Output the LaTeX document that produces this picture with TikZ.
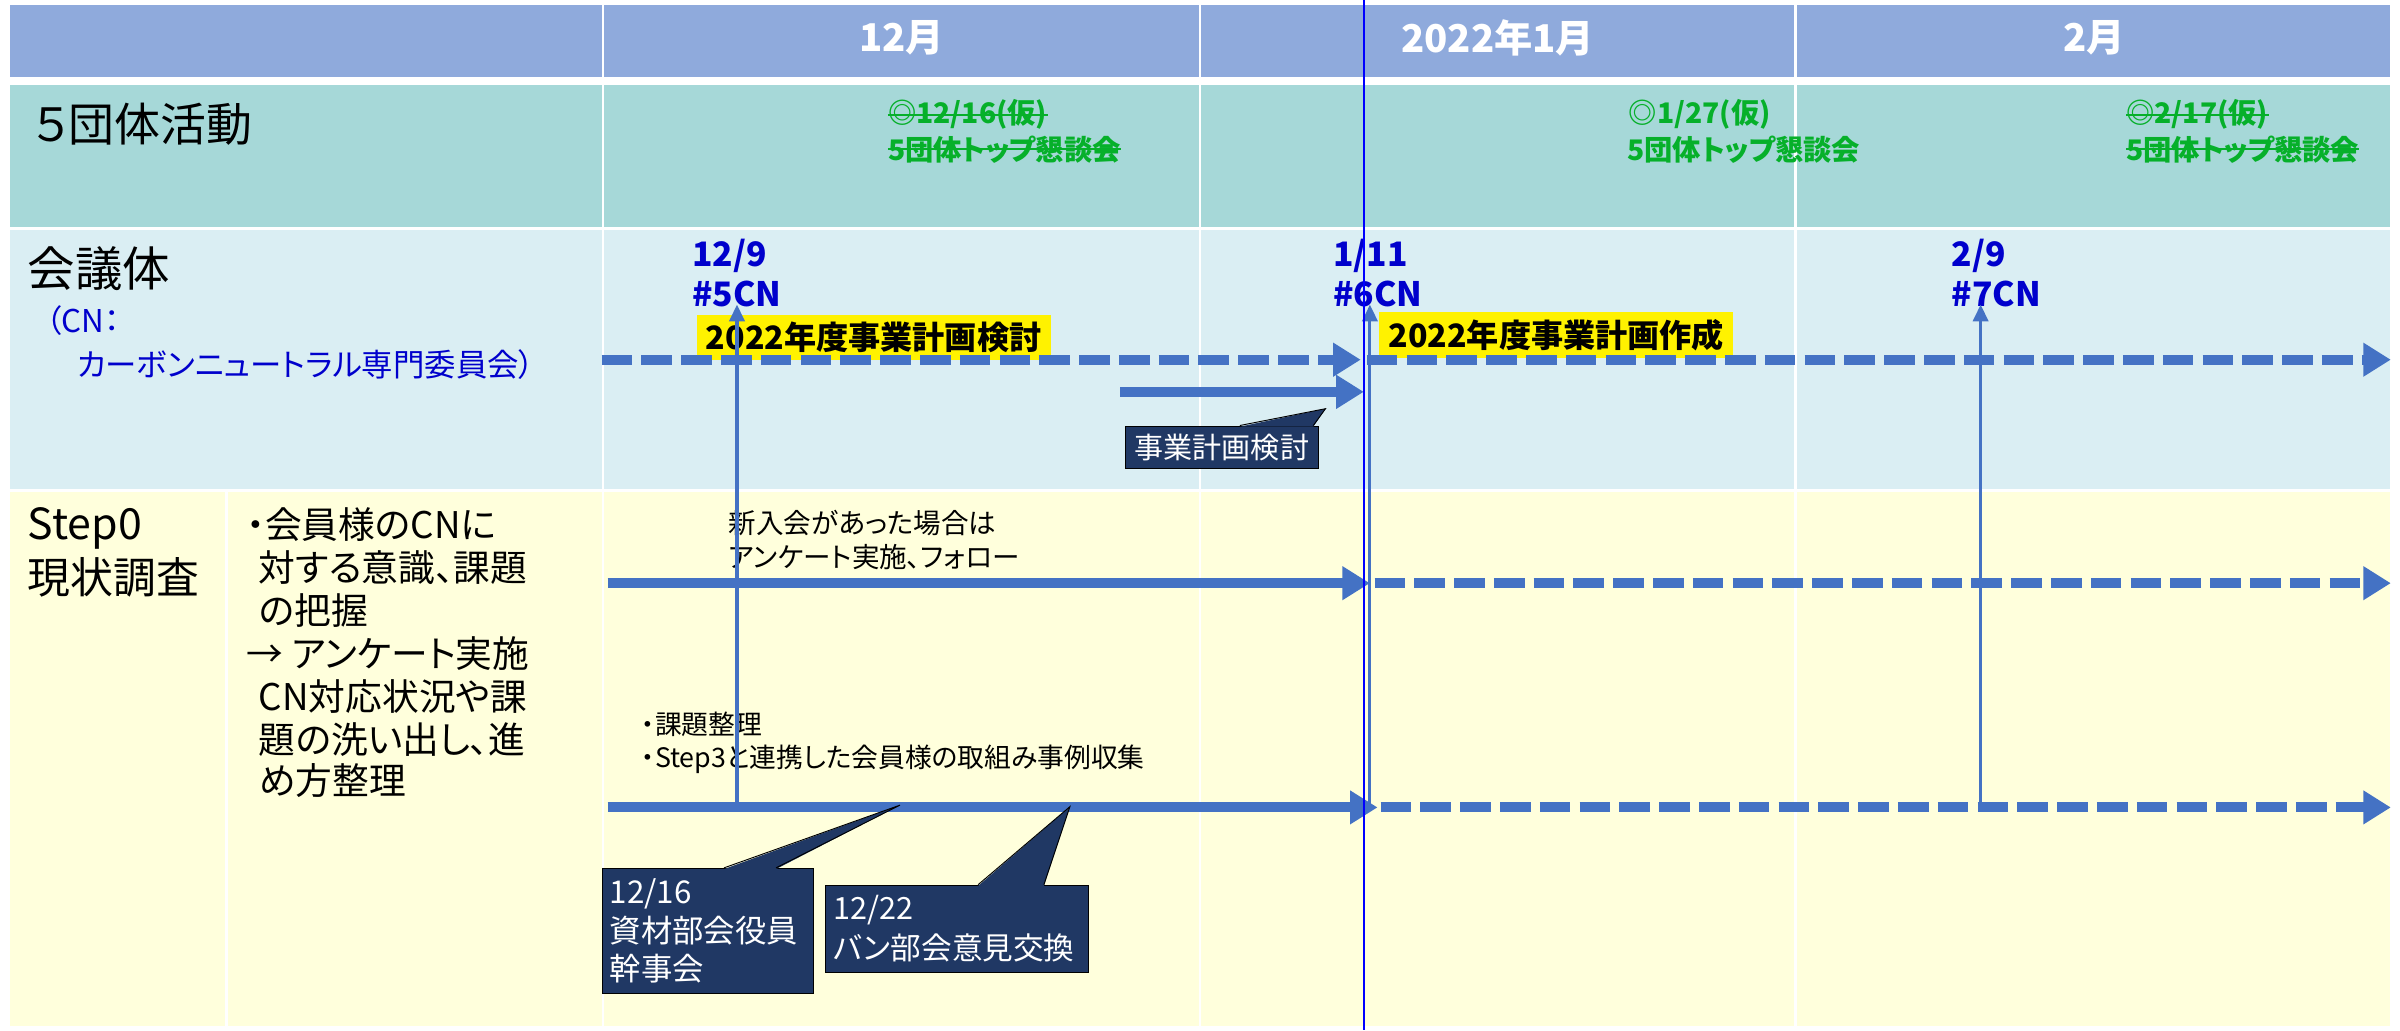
\documentclass[tikz,border=0pt]{standalone}
\usepackage{fontspec}
\setmainfont{Noto Sans CJK JP}[RawFeature=+palt]
\usetikzlibrary{arrows.meta}
\definecolor{hdrbg}{HTML}{8FAADC}
\definecolor{orgbg}{HTML}{A6D8D8}
\definecolor{meetbg}{HTML}{DAEEF3}
\definecolor{stepbg}{HTML}{FFFFDC}
\definecolor{arrblue}{HTML}{4472C4}
\definecolor{cnblue}{HTML}{0000CC}
\definecolor{grn}{HTML}{06B02A}
\definecolor{navybox}{HTML}{203864}
\newcommand{\myfs}[1]{\fontsize{#1}{#1}\selectfont}
\tikzset{
  hdrtxt/.style={text=white, font=\bfseries\myfs{25}, inner sep=0pt},
  gtxt/.style={text=grn, font=\bfseries\myfs{18.5}, inner sep=0pt, anchor=west},
  strikeline/.style={draw=grn, line width=1.4pt},
  dtxt/.style={text=cnblue, font=\bfseries\myfs{22}, inner sep=0pt, anchor=west},
  ybox/.style={fill=yellow, text=black, font=\bfseries\myfs{21}, inner xsep=6pt, inner ysep=0pt, minimum height=30pt, anchor=west},
  bigsolid/.style={draw=arrblue, line width=6.5pt, -{Triangle[length=18pt,width=21pt]}},
  bigdash/.style={bigsolid, dash pattern=on 20pt off 6pt},
  thinup/.style={draw=arrblue, line width=2pt, -{Triangle[length=11pt,width=10pt]}},
  callbox/.style={fill=navybox, draw=black, line width=0.6pt, text=white, inner xsep=5pt, inner ysep=0pt, align=left, anchor=north west},
  jtxt/.style={text=black, inner sep=0pt, anchor=west},
  divider/.style={draw=white, line width=1.6pt},
}
\begin{document}
\begin{tikzpicture}[x=1pt,y=-1pt]
\useasboundingbox (0,0) rectangle (1568,673);
\fill[white] (0,0) rectangle (1568,673);
% rows
\fill[hdrbg] (6.5,3) rectangle (1561.5,50);
\fill[orgbg] (6.5,55.5) rectangle (1561.5,148);
\fill[meetbg] (6.5,150) rectangle (1561.5,319.5);
\fill[stepbg] (6.5,321.5) rectangle (1561.5,670);
% dividers
\draw[divider] (394,3) -- (394,670);
\draw[divider] (784,3) -- (784,670);
\draw[divider] (1173,3) -- (1173,670);
\draw[divider] (148,321.5) -- (148,670);
% header
\node[hdrtxt] (hd1) at (589,25) {12月};
\node[hdrtxt] (hd2) at (978.5,25) {2022年1月};
\node[hdrtxt] (hd3) at (1368,25) {2月};
% 5 dantai row
\node[jtxt, font=\myfs{30}] (org) at (22,81) {５団体活動};
\node[gtxt] (g1a) at (580,75) {◎12/16(仮)};
\node[gtxt] (g1b) at (580,97.5) {5団体トップ懇談会};
\draw[strikeline] (g1a.west) -- (g1a.east);
\draw[strikeline] (g1b.west) -- (g1b.east);
\node[gtxt] (g2a) at (1064,75) {◎1/27(仮)};
\node[gtxt] (g2b) at (1063,97.5) {5団体トップ懇談会};
\node[gtxt] (g3a) at (1389,75) {◎2/17(仮)};
\node[gtxt] (g3b) at (1389,97.5) {5団体トップ懇談会};
\draw[strikeline] (g3a.west) -- (g3a.east);
\draw[strikeline] (g3b.west) -- (g3b.east);
% kaigitai row
\node[jtxt, font=\myfs{31}] (kg) at (18,175.5) {会議体};
\node[jtxt, text=cnblue, font=\myfs{20.5}] (cn1) at (30,209.5) {（CN：};
\node[jtxt, text=cnblue, font=\myfs{20.5}] (cn2) at (50,238.5) {カーボンニュートラル専門委員会）};
\node[dtxt] (d1a) at (452,167.5) {12/9};
\node[dtxt] (d1b) at (452,192) {\#5CN};
\node[dtxt] (d2a) at (871,167.5) {1/11};
\node[dtxt] (d2b) at (871,192) {\#6CN};
\node[dtxt] (d3a) at (1275,167.5) {2/9};
\node[dtxt] (d3b) at (1275,192) {\#7CN};
\node[ybox] (yb1) at (455,220.5) {2022年度事業計画検討};
\node[ybox] (yb2) at (901,219) {2022年度事業計画作成};
% step0 row texts
\node[jtxt, font=\myfs{28}] (s0a) at (18,345.5) {Step0};
\node[jtxt, font=\myfs{28}] (s0b) at (18,377) {現状調査};
\node[jtxt, font=\myfs{24}] (b1) at (161,343) {・会員様のCNに};
\node[jtxt, font=\myfs{24}] (b2) at (169,371) {対する意識、課題};
\node[jtxt, font=\myfs{24}] (b3) at (169,399) {の把握};
\node[jtxt, font=\myfs{24}] (b4) at (161,427) {→ アンケート実施};
\node[jtxt, font=\myfs{24}] (b5) at (169,455) {CN対応状況や課};
\node[jtxt, font=\myfs{24}] (b6) at (169,483) {題の洗い出し、進};
\node[jtxt, font=\myfs{24}] (b7) at (169,510) {め方整理};
\node[jtxt, font=\myfs{18}] (n1) at (476,342) {新入会があった場合は};
\node[jtxt, font=\myfs{18}] (n2) at (476,364) {アンケート実施、フォロー};
\node[jtxt, font=\myfs{17.5}] (m1) at (419,473) {・課題整理};
\node[jtxt, font=\myfs{17.5}] (m2) at (419,496) {・Step3と連携した会員様の取組み事例収集};
% coordinates for arrows
\coordinate (ka0) at (393,235);
\coordinate (ka1) at (889,235);
\coordinate (ka2) at (893,235);
\coordinate (ka3) at (1562,235);
\coordinate (kb0) at (732,256);
\coordinate (kb1) at (891,256);
\coordinate (sa0) at (397,381);
\coordinate (sa1) at (895,381);
\coordinate (sa2) at (898,381);
\coordinate (sa3) at (1562,381);
\coordinate (sb0) at (397,527.5);
\coordinate (sb1) at (900,527.5);
\coordinate (sb2) at (902,527.5);
\coordinate (sb3) at (1562,527.5);
\coordinate (v1b) at (481.5,527);
\coordinate (v1t) at (481.5,199);
\coordinate (v2b) at (895,527);
\coordinate (v2t) at (895,199);
\coordinate (v3b) at (1294,527);
\coordinate (v3t) at (1294,199);
% vertical arrows
\draw[thinup] (v1b) -- (v1t);
\draw[thinup] (v2b) -- (v2t);
\draw[thinup] (v3b) -- (v3t);
% horizontal arrows
\draw[bigdash] (ka0) -- (ka1);
\draw[bigdash] (ka2) -- (ka3);
\draw[bigsolid] (kb0) -- (kb1);
\draw[bigsolid] (sa0) -- (sa1);
\draw[bigdash] (sa2) -- (sa3);
\draw[bigsolid] (sb0) -- (sb1);
\draw[bigdash] (sb2) -- (sb3);
% callouts
\node[callbox, minimum width=126pt, minimum height=28pt, align=center, font=\myfs{19}] (c3) at (735,278) {事業計画検討};
\fill[navybox] (810,278.8) -- (866,267) -- (858,278.8) -- cycle;
\draw[black, line width=0.6pt] (810,278) -- (866,267) -- (858,278);
\node[callbox, text width=128pt, minimum height=82pt, font=\fontsize{20.5}{25}\selectfont] (c1) at (393,567) {12/16\\資材部会役員\\幹事会};
\fill[navybox] (473,567.8) -- (588,526) -- (507,567.8) -- cycle;
\draw[black, line width=0.6pt] (473,567) -- (588,526) -- (507,567);
\node[callbox, text width=162pt, minimum height=57pt, font=\fontsize{20}{26}\selectfont] (c2) at (539,578) {12/22\\バン部会意見交換};
\fill[navybox] (639,578.8) -- (699,527) -- (682,578.8) -- cycle;
\draw[black, line width=0.6pt] (639,578) -- (699,527) -- (682,578);
% thin blue today line
\draw[blue, line width=1pt] (891,0) -- (891,673);
\end{tikzpicture}
\end{document}
